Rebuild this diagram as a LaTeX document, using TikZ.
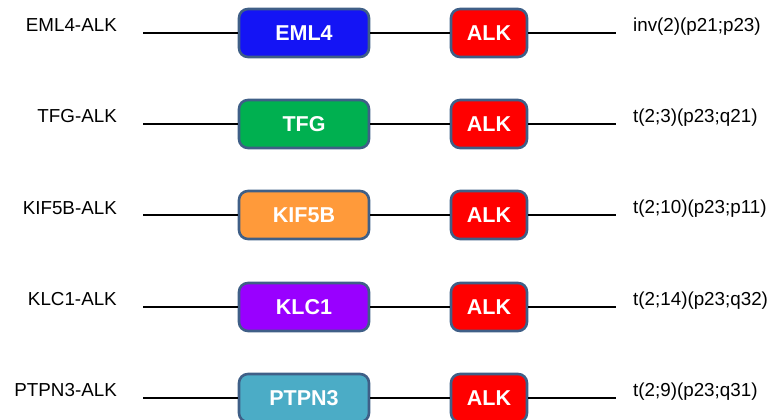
\documentclass[tikz,border=0pt]{standalone}
\usepackage{fontspec}
\setmainfont{Liberation Sans}
\usetikzlibrary{positioning}

\definecolor{boxedge}{HTML}{3F5F87}
\definecolor{emlblue}{HTML}{1414F5}
\definecolor{tfggreen}{HTML}{00B050}
\definecolor{kiforange}{HTML}{FF9A3A}
\definecolor{klcpurple}{HTML}{9900FF}
\definecolor{ptpnteal}{HTML}{4BACC6}
\definecolor{alkred}{HTML}{FF0000}

\tikzset{
  gene/.style={draw=boxedge,line width=2.6pt,rounded corners=9pt,minimum height=48pt,
    text=white,font=\bfseries\fontsize{21.5}{24}\selectfont,inner sep=0pt},
  partner/.style={gene,minimum width=130pt},
  alkbox/.style={gene,fill=alkred,minimum width=76pt},
  fusion/.style={font=\fontsize{18.8}{22}\selectfont,anchor=east,inner sep=0pt},
  locus/.style={font=\fontsize{18.8}{22}\selectfont,anchor=west,inner sep=0pt},
  strand/.style={line width=1.6pt}
}

\begin{document}
\begin{tikzpicture}[x=1pt,y=-1pt]
\useasboundingbox (0,0) rectangle (772,420);

% row 1
\node[fusion] (f1) at (117,25) {EML4-ALK};
\coordinate (l1) at (143,33);
\node[partner,fill=emlblue] (p1) at (304,33) {EML4};
\node[alkbox] (a1) at (489,33) {ALK};
\coordinate (r1) at (616,33);
\node[locus] (t1) at (633,27) {inv(2)(p21;p23)};

% row 2
\node[fusion] (f2) at (117,116) {TFG-ALK};
\coordinate (l2) at (143,124);
\node[partner,fill=tfggreen] (p2) at (304,124) {TFG};
\node[alkbox] (a2) at (489,124) {ALK};
\coordinate (r2) at (616,124);
\node[locus] (t2) at (633,118) {t(2;3)(p23;q21)};

% row 3
\node[fusion] (f3) at (117,208) {KIF5B-ALK};
\coordinate (l3) at (143,215);
\node[partner,fill=kiforange] (p3) at (304,215) {KIF5B};
\node[alkbox] (a3) at (489,215) {ALK};
\coordinate (r3) at (616,215);
\node[locus] (t3) at (633,209) {t(2;10)(p23;p11)};

% row 4
\node[fusion] (f4) at (117,299) {KLC1-ALK};
\coordinate (l4) at (143,307);
\node[partner,fill=klcpurple] (p4) at (304,307) {KLC1};
\node[alkbox] (a4) at (489,307) {ALK};
\coordinate (r4) at (616,307);
\node[locus] (t4) at (633,301) {t(2;14)(p23;q32)};

% row 5
\node[fusion] (f5) at (117,390) {PTPN3-ALK};
\coordinate (l5) at (143,398);
\node[partner,fill=ptpnteal] (p5) at (304,398) {PTPN3};
\node[alkbox] (a5) at (489,398) {ALK};
\coordinate (r5) at (616,398);
\node[locus] (t5) at (633,392) {t(2;9)(p23;q31)};

% backbones
\foreach \i in {1,...,5} {
  \draw[strand] (l\i) -- (p\i.west);
  \draw[strand] (p\i.east) -- (a\i.west);
  \draw[strand] (a\i.east) -- (r\i);
}
\end{tikzpicture}
\end{document}
